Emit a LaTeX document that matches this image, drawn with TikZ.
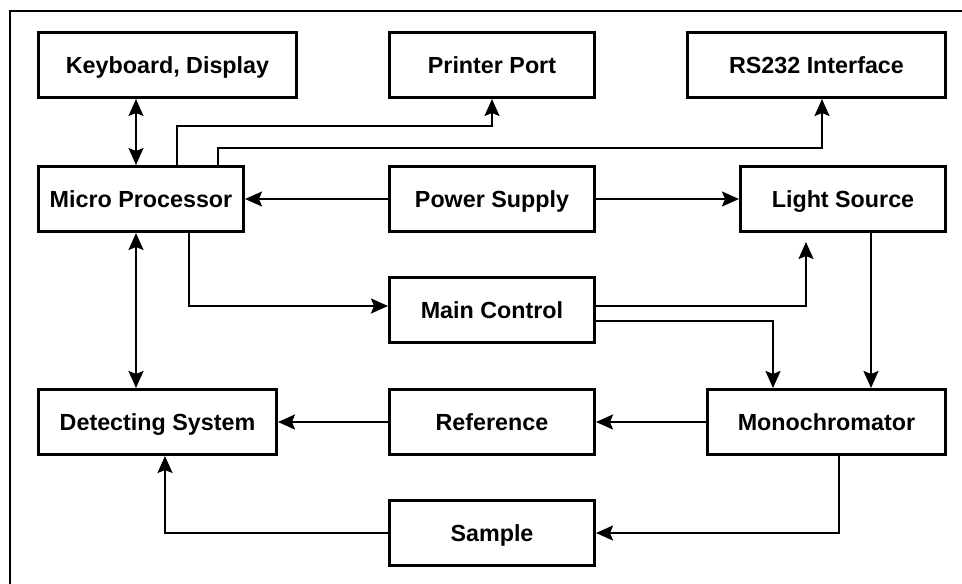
\documentclass[tikz,border=0pt]{standalone}
\usepackage{fontspec}
\setmainfont{Liberation Sans}
\usetikzlibrary{arrows.meta}
\begin{document}
\begin{tikzpicture}[x=1pt,y=-1pt,
  box/.style={draw,line width=3pt,minimum height=65pt,inner sep=0pt,align=center,
    text height=16.7pt,text depth=0pt,
    font=\fontsize{23.3}{27}\selectfont\bfseries},
  conn/.style={line width=2pt},
  arr/.style={conn,-{Stealth[length=17pt,width=15pt,inset=3pt]}},
  darr/.style={conn,{Stealth[length=17pt,width=15pt,inset=3pt]}-{Stealth[length=17pt,width=15pt,inset=3pt]}}]
\useasboundingbox (0,0) rectangle (962,584);
\draw[line width=2pt] (10,584) -- (10,11) -- (962,11);
% boxes
\node[box,minimum width=258pt] (kb) at (167.5,65) {Keyboard, Display};
\node[box,minimum width=205pt] (pp) at (492,65) {Printer Port};
\node[box,minimum width=258pt] (rs) at (816.5,65) {RS232 Interface};
\node[box,minimum width=205pt] (mp) at (141,199) {Micro Processor};
\node[box,minimum width=205pt] (ps) at (492,199) {Power Supply};
\node[box,minimum width=205pt] (ls) at (843,199) {Light Source};
\node[box,minimum width=205pt] (mc) at (492,310) {Main Control};
\node[box,minimum width=238pt] (ds) at (157.5,422) {Detecting System};
\node[box,minimum width=205pt] (rf) at (492,422) {Reference};
\node[box,minimum width=238pt] (mo) at (826.5,422) {Monochromator};
\node[box,minimum width=205pt] (sa) at (492,533) {Sample};
\coordinate (lsin) at (806,242);
% connectors
\draw[darr] (136,0 |- kb.south) -- (136,0 |- mp.north);
\draw[arr] (177,0 |- mp.north) -- (177,126) -- (492,126) -- (492,0 |- pp.south);
\draw[arr] (218,0 |- mp.north) -- (218,148) -- (822,148) -- (822,0 |- rs.south);
\draw[arr] (ps.west) -- (mp.east);
\draw[arr] (ps.east) -- (ls.west);
\draw[darr] (136,0 |- mp.south) -- (136,0 |- ds.north);
\draw[arr] (189,0 |- mp.south) |- ([yshift=4pt]mc.west);
\draw[arr] ([yshift=4pt]mc.east) -| (lsin);
\draw[arr] ([yshift=-11pt]mc.east) -| (773,0 |- mo.north);
\draw[arr] (871,0 |- ls.south) -- (871,0 |- mo.north);
\draw[arr] (mo.west) -- (rf.east);
\draw[arr] (rf.west) -- (ds.east);
\draw[arr] (839,0 |- mo.south) |- (sa.east);
\draw[arr] (sa.west) -| (165,0 |- ds.south);
\end{tikzpicture}
\end{document}
